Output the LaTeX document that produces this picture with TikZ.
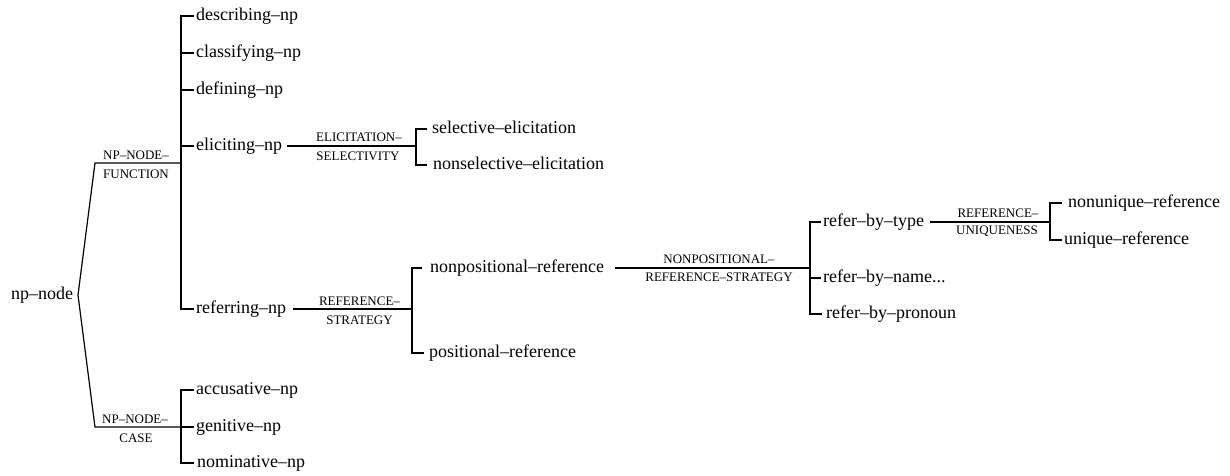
\documentclass[tikz,border=0pt]{standalone}
\usepackage{fontspec}
\setmainfont{Liberation Serif}
\begin{document}
\begin{tikzpicture}[x=1pt,y=-1pt,
  term/.style={anchor=west, inner sep=0pt, text height=13pt, text depth=4pt, font=\fontsize{18}{20}\selectfont},
  lab/.style={inner sep=0pt, font=\fontsize{13}{15}\selectfont},
  conn/.style={line width=1.2pt, line join=miter}]
\useasboundingbox (0,0) rectangle (1230,475);

% root
\node[term] (npnode) at (11,295) {np–node};
\coordinate (v) at (78,295);
\coordinate (fa) at (95,163);
\coordinate (fb) at (181,163);
\coordinate (ca) at (95,427);
\coordinate (cb) at (181,427);
\draw[conn] (fb) -- (fa) -- (v) -- (ca) -- (cb);
\node[lab] (fl1) at (136,155) {NP–NODE–};
\node[lab] (fl2) at (136,174) {FUNCTION};
\node[lab] (cl1) at (135,419) {NP–NODE–};
\node[lab] (cl2) at (136,438) {CASE};

% function
\node[term] (desc) at (196,16) {describing–np};
\node[term] (class) at (196,53) {classifying–np};
\node[term] (def) at (196,90) {defining–np};
\node[term] (elic) at (196,146) {eliciting–np};
\node[term] (refer) at (196,309) {referring–np};
\draw[conn, shorten <=2pt, shorten >=2pt] (desc.west) -- (fb |- desc.west) -- (fb |- refer.west) -- (refer.west);
\draw[conn, shorten >=2pt] (fb |- class.west) -- (class.west);
\draw[conn, shorten >=2pt] (fb |- def.west) -- (def.west);
\draw[conn, shorten >=2pt] (fb |- elic.west) -- (elic.west);

% case
\node[term] (acc) at (196,390) {accusative–np};
\node[term] (gen) at (196,427) {genitive–np};
\node[term] (nom) at (197,463) {nominative–np};
\draw[conn, shorten <=2pt, shorten >=3pt] (acc.west) -- (cb |- acc.west) -- (cb |- nom.west) -- (nom.west);
\draw[conn, shorten >=2pt] (cb) -- (gen.west);

% elicitation selectivity
\coordinate (eb) at (416,146);
\draw[conn] ([xshift=5pt]elic.east) -- (eb);
\node[lab] (el1) at (359,137.5) {ELICITATION–};
\node[lab] (el2) at (358,156.5) {SELECTIVITY};
\node[term] (sel) at (432,129) {selective–elicitation};
\node[term] (nsel) at (433,165) {nonselective–elicitation};
\draw[conn, shorten <=5pt, shorten >=6pt] (sel.west) -- (eb |- sel.west) -- (eb |- nsel.west) -- (nsel.west);

% reference strategy
\coordinate (rb) at (412,309);
\draw[conn] ([xshift=7pt]refer.east) -- (rb);
\node[lab] (rl1) at (359.5,301.5) {REFERENCE–};
\node[lab] (rl2) at (359.5,320) {STRATEGY};
\node[term] (npos) at (430,268) {nonpositional–reference};
\node[term] (pos) at (429,353) {positional–reference};
\draw[conn, shorten <=8pt, shorten >=5pt] (npos.west) -- (rb |- npos.west) -- (rb |- pos.west) -- (pos.west);

% nonpositional reference strategy
\coordinate (nb) at (810,268);
\draw[conn] ([xshift=11pt]npos.east) -- (nb);
\node[lab] (nl1) at (719,259) {NONPOSITIONAL–};
\node[lab] (nl2) at (719,277.5) {REFERENCE–STRATEGY};
\node[term] (rtype) at (823,222) {refer–by–type};
\node[term] (rname) at (823,278) {refer–by–name...};
\node[term] (rpron) at (826,314) {refer–by–pronoun};
\draw[conn, shorten <=2pt, shorten >=4pt] (rtype.west) -- (nb |- rtype.west) -- (nb |- rpron.west) -- (rpron.west);
\draw[conn, shorten >=2pt] (nb |- rname.west) -- (rname.west);

% reference uniqueness
\coordinate (ub) at (1050,222);
\draw[conn] ([xshift=6pt]rtype.east) -- (ub);
\node[lab] (ul1) at (998,213) {REFERENCE–};
\node[lab] (ul2) at (997,231.5) {UNIQUENESS};
\node[term] (nuniq) at (1068,203) {nonunique–reference};
\node[term] (uniq) at (1064,240) {unique–reference};
\draw[conn, shorten <=6pt, shorten >=2pt] (nuniq.west) -- (ub |- nuniq.west) -- (ub |- uniq.west) -- (uniq.west);
\end{tikzpicture}
\end{document}
